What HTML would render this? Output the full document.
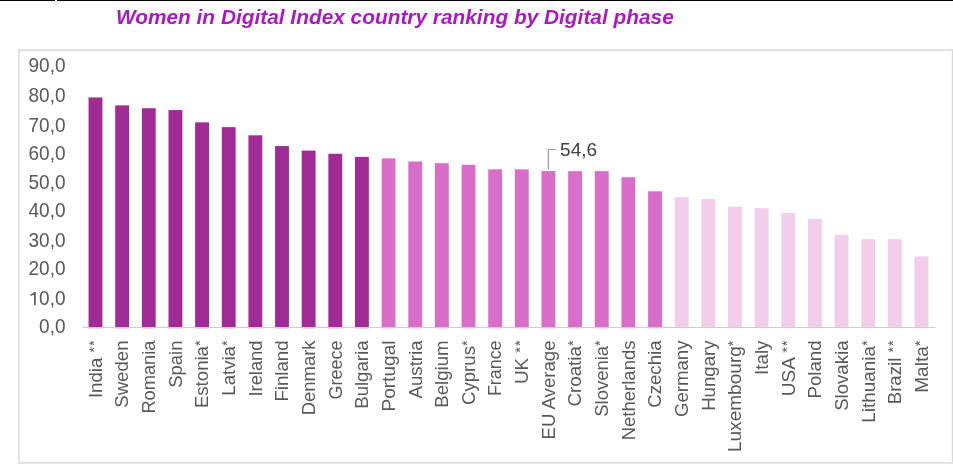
<!DOCTYPE html>
<html><head><meta charset="utf-8"><style>
html,body{margin:0;padding:0;background:#fff;width:953px;height:464px;overflow:hidden}
svg{display:block;will-change:transform}
text{font-family:"Liberation Sans",sans-serif}
</style></head><body>
<svg width="953" height="464" viewBox="0 0 953 464">
<rect x="0" y="0" width="55" height="1" fill="#000"/>
<rect x="57" y="0" width="896" height="1" fill="#000"/>
<text transform="translate(115.9,23.9)" font-size="20.85" font-weight="bold" font-style="italic" fill="#a81bbf">Women in Digital Index country ranking by Digital phase</text>
<g shape-rendering="crispEdges">
<rect x="20" y="51" width="931" height="1" fill="#f7f7f7"/>

<rect x="951" y="51" width="1" height="410" fill="#f8f8f8"/>
<rect x="20" y="461" width="931" height="1" fill="#f9f9f9"/>
<rect x="18" y="49" width="935" height="2" fill="#e3e3e3"/>
<rect x="18" y="49" width="1" height="415" fill="#e0e0e0"/><rect x="19" y="51" width="1" height="411" fill="#ededed"/>
<rect x="952" y="49" width="1" height="415" fill="#d9d9d9"/>
<rect x="18" y="462" width="935" height="2" fill="#e3e3e3"/>
</g>
<rect x="88.55" y="97.45" width="13.85" height="229.55" fill="#a02b94"/><rect x="88.55" y="328" width="13.85" height="1" fill="#a02b94" fill-opacity="0.18"/><rect x="115.20" y="105.35" width="13.85" height="221.65" fill="#a02b94"/><rect x="115.20" y="328" width="13.85" height="1" fill="#a02b94" fill-opacity="0.18"/><rect x="141.84" y="108.25" width="13.85" height="218.75" fill="#a02b94"/><rect x="141.84" y="328" width="13.85" height="1" fill="#a02b94" fill-opacity="0.18"/><rect x="168.49" y="110.05" width="13.85" height="216.95" fill="#a02b94"/><rect x="168.49" y="328" width="13.85" height="1" fill="#a02b94" fill-opacity="0.18"/><rect x="195.13" y="122.35" width="13.85" height="204.65" fill="#a02b94"/><rect x="195.13" y="328" width="13.85" height="1" fill="#a02b94" fill-opacity="0.18"/><rect x="221.78" y="127.15" width="13.85" height="199.85" fill="#a02b94"/><rect x="221.78" y="328" width="13.85" height="1" fill="#a02b94" fill-opacity="0.18"/><rect x="248.42" y="135.32" width="13.85" height="191.68" fill="#a02b94"/><rect x="248.42" y="328" width="13.85" height="1" fill="#a02b94" fill-opacity="0.18"/><rect x="275.07" y="146.05" width="13.85" height="180.95" fill="#a02b94"/><rect x="275.07" y="328" width="13.85" height="1" fill="#a02b94" fill-opacity="0.18"/><rect x="301.71" y="150.60" width="13.85" height="176.40" fill="#a02b94"/><rect x="301.71" y="328" width="13.85" height="1" fill="#a02b94" fill-opacity="0.18"/><rect x="328.36" y="153.75" width="13.85" height="173.25" fill="#a02b94"/><rect x="328.36" y="328" width="13.85" height="1" fill="#a02b94" fill-opacity="0.18"/><rect x="355.00" y="156.85" width="13.85" height="170.15" fill="#a02b94"/><rect x="355.00" y="328" width="13.85" height="1" fill="#a02b94" fill-opacity="0.18"/><rect x="381.65" y="158.35" width="13.85" height="168.65" fill="#d86eca"/><rect x="381.65" y="328" width="13.85" height="1" fill="#d86eca" fill-opacity="0.18"/><rect x="408.30" y="161.50" width="13.85" height="165.50" fill="#d86eca"/><rect x="408.30" y="328" width="13.85" height="1" fill="#d86eca" fill-opacity="0.18"/><rect x="434.94" y="163.15" width="13.85" height="163.85" fill="#d86eca"/><rect x="434.94" y="328" width="13.85" height="1" fill="#d86eca" fill-opacity="0.18"/><rect x="461.59" y="164.85" width="13.85" height="162.15" fill="#d86eca"/><rect x="461.59" y="328" width="13.85" height="1" fill="#d86eca" fill-opacity="0.18"/><rect x="488.23" y="169.35" width="13.85" height="157.65" fill="#d86eca"/><rect x="488.23" y="328" width="13.85" height="1" fill="#d86eca" fill-opacity="0.18"/><rect x="514.88" y="169.35" width="13.85" height="157.65" fill="#d86eca"/><rect x="514.88" y="328" width="13.85" height="1" fill="#d86eca" fill-opacity="0.18"/><rect x="541.52" y="171.05" width="13.85" height="155.95" fill="#d86eca"/><rect x="541.52" y="328" width="13.85" height="1" fill="#d86eca" fill-opacity="0.18"/><rect x="568.17" y="171.15" width="13.85" height="155.85" fill="#d86eca"/><rect x="568.17" y="328" width="13.85" height="1" fill="#d86eca" fill-opacity="0.18"/><rect x="594.81" y="171.15" width="13.85" height="155.85" fill="#d86eca"/><rect x="594.81" y="328" width="13.85" height="1" fill="#d86eca" fill-opacity="0.18"/><rect x="621.46" y="177.21" width="13.85" height="149.79" fill="#d86eca"/><rect x="621.46" y="328" width="13.85" height="1" fill="#d86eca" fill-opacity="0.18"/><rect x="648.11" y="191.31" width="13.85" height="135.69" fill="#d86eca"/><rect x="648.11" y="328" width="13.85" height="1" fill="#d86eca" fill-opacity="0.18"/><rect x="674.75" y="197.15" width="13.85" height="129.85" fill="#f2ceea"/><rect x="674.75" y="328" width="13.85" height="1" fill="#f2ceea" fill-opacity="0.18"/><rect x="701.40" y="199.05" width="13.85" height="127.95" fill="#f2ceea"/><rect x="701.40" y="328" width="13.85" height="1" fill="#f2ceea" fill-opacity="0.18"/><rect x="728.04" y="206.65" width="13.85" height="120.35" fill="#f2ceea"/><rect x="728.04" y="328" width="13.85" height="1" fill="#f2ceea" fill-opacity="0.18"/><rect x="754.69" y="208.15" width="13.85" height="118.85" fill="#f2ceea"/><rect x="754.69" y="328" width="13.85" height="1" fill="#f2ceea" fill-opacity="0.18"/><rect x="781.33" y="213.05" width="13.85" height="113.95" fill="#f2ceea"/><rect x="781.33" y="328" width="13.85" height="1" fill="#f2ceea" fill-opacity="0.18"/><rect x="807.98" y="219.05" width="13.85" height="107.95" fill="#f2ceea"/><rect x="807.98" y="328" width="13.85" height="1" fill="#f2ceea" fill-opacity="0.18"/><rect x="834.62" y="234.85" width="13.85" height="92.15" fill="#f2ceea"/><rect x="834.62" y="328" width="13.85" height="1" fill="#f2ceea" fill-opacity="0.18"/><rect x="861.27" y="239.25" width="13.85" height="87.75" fill="#f2ceea"/><rect x="861.27" y="328" width="13.85" height="1" fill="#f2ceea" fill-opacity="0.18"/><rect x="887.91" y="239.25" width="13.85" height="87.75" fill="#f2ceea"/><rect x="887.91" y="328" width="13.85" height="1" fill="#f2ceea" fill-opacity="0.18"/><rect x="914.56" y="256.45" width="13.85" height="70.55" fill="#f2ceea"/><rect x="914.56" y="328" width="13.85" height="1" fill="#f2ceea" fill-opacity="0.18"/>
<rect x="83" y="327" width="852.5" height="1" fill="#cdcdcd"/>
<g font-size="19" fill="#595959"><text transform="translate(65.5,332.50) scale(1,1.04)" text-anchor="end">0,0</text><text transform="translate(65.5,305.25) scale(1,1.04)" text-anchor="end">0,0</text><path d="M34.05 291.95 H35.75 V305.25 H34.05 V294.65 C33.2 295.05 31.9 295.55 30.4 295.75 V294.35 C32.2 294.05 33.6 293.05 34.05 291.95 Z" fill="#595959"/><text transform="translate(65.5,274.70) scale(1,1.04)" text-anchor="end">20,0</text><text transform="translate(65.5,247.30) scale(1,1.04)" text-anchor="end">30,0</text><text transform="translate(65.5,217.30) scale(1,1.04)" text-anchor="end">40,0</text><text transform="translate(65.5,188.60) scale(1,1.04)" text-anchor="end">50,0</text><text transform="translate(65.5,160.45) scale(1,1.04)" text-anchor="end">60,0</text><text transform="translate(65.5,131.60) scale(1,1.04)" text-anchor="end">70,0</text><text transform="translate(65.5,101.90) scale(1,1.04)" text-anchor="end">80,0</text><text transform="translate(65.5,71.70) scale(1,1.04)" text-anchor="end">90,0</text></g>
<g font-size="19" fill="#595959"><text transform="translate(101.65,340.5) rotate(-90) scale(0.9800,1)" text-anchor="end">India <tspan font-size="14.5" dy="-3.0">*</tspan><tspan font-size="14.5" dx="1">*</tspan></text><text transform="translate(128.31,340.5) rotate(-90) scale(0.9800,1)" text-anchor="end">Sweden</text><text transform="translate(154.96,340.5) rotate(-90) scale(0.9628,1)" text-anchor="end">Romania</text><text transform="translate(181.62,340.5) rotate(-90) scale(0.9736,1)" text-anchor="end">Spain</text><text transform="translate(208.27,340.5) rotate(-90) scale(0.9800,1)" text-anchor="end">Estonia<tspan font-size="14.5" dy="-3.0">*</tspan></text><text transform="translate(234.93,340.5) rotate(-90) scale(0.9800,1)" text-anchor="end">Latvia<tspan font-size="14.5" dy="-3.0">*</tspan></text><text transform="translate(261.59,340.5) rotate(-90) scale(0.9657,1)" text-anchor="end">Ireland</text><text transform="translate(288.24,340.5) rotate(-90) scale(0.9800,1)" text-anchor="end">Finland</text><text transform="translate(314.90,340.5) rotate(-90) scale(0.9694,1)" text-anchor="end">Denmark</text><text transform="translate(341.55,340.5) rotate(-90) scale(0.9473,1)" text-anchor="end">Greece</text><text transform="translate(368.21,340.5) rotate(-90) scale(0.9800,1)" text-anchor="end">Bulgaria</text><text transform="translate(394.87,340.5) rotate(-90) scale(1.0052,1)" text-anchor="end">Portugal</text><text transform="translate(421.52,340.5) rotate(-90) scale(0.9800,1)" text-anchor="end">Austria</text><text transform="translate(448.18,340.5) rotate(-90) scale(0.9800,1)" text-anchor="end">Belgium</text><text transform="translate(474.83,340.5) rotate(-90) scale(0.9800,1)" text-anchor="end">Cyprus<tspan font-size="14.5" dy="-3.0">*</tspan></text><text transform="translate(501.49,340.5) rotate(-90) scale(0.9398,1)" text-anchor="end">France</text><text transform="translate(528.15,340.5) rotate(-90) scale(0.9920,1)" text-anchor="end">UK <tspan font-size="14.5" dy="-3.0">*</tspan><tspan font-size="14.5" dx="1">*</tspan></text><text transform="translate(554.80,340.5) rotate(-90) scale(0.9800,1)" text-anchor="end">EU Average</text><text transform="translate(581.46,340.5) rotate(-90) scale(0.9875,1)" text-anchor="end">Croatia<tspan font-size="14.5" dy="-3.0">*</tspan></text><text transform="translate(608.11,340.5) rotate(-90) scale(0.9710,1)" text-anchor="end">Slovenia<tspan font-size="14.5" dy="-3.0">*</tspan></text><text transform="translate(634.77,340.5) rotate(-90) scale(0.9750,1)" text-anchor="end">Netherlands</text><text transform="translate(661.43,340.5) rotate(-90) scale(0.9800,1)" text-anchor="end">Czechia</text><text transform="translate(688.08,340.5) rotate(-90) scale(0.9800,1)" text-anchor="end">Germany</text><text transform="translate(714.74,340.5) rotate(-90) scale(0.9800,1)" text-anchor="end">Hungary</text><text transform="translate(741.39,340.5) rotate(-90) scale(1.0036,1)" text-anchor="end">Luxembourg<tspan font-size="14.5" dy="-3.0">*</tspan></text><text transform="translate(768.05,340.5) rotate(-90) scale(0.9889,1)" text-anchor="end">Italy</text><text transform="translate(794.71,340.5) rotate(-90) scale(1.0040,1)" text-anchor="end">USA <tspan font-size="14.5" dy="-3.0">*</tspan><tspan font-size="14.5" dx="1">*</tspan></text><text transform="translate(821.36,340.5) rotate(-90) scale(0.9800,1)" text-anchor="end">Poland</text><text transform="translate(848.02,340.5) rotate(-90) scale(0.9800,1)" text-anchor="end">Slovakia</text><text transform="translate(874.67,340.5) rotate(-90) scale(0.9935,1)" text-anchor="end">Lithuania<tspan font-size="14.5" dy="-3.0">*</tspan></text><text transform="translate(901.33,340.5) rotate(-90) scale(0.9800,1)" text-anchor="end">Brazil <tspan font-size="14.5" dy="-3.0">*</tspan><tspan font-size="14.5" dx="1">*</tspan></text><text transform="translate(927.99,340.5) rotate(-90) scale(1.0055,1)" text-anchor="end">Malta<tspan font-size="14.5" dy="-3.0">*</tspan></text></g>
<path d="M548.3 169.8 V149.5 H555.9" fill="none" stroke="#9a9a9a" stroke-width="1.2"/>
<text x="560.1" y="156" font-size="19" fill="#404040">54,6</text>
</svg>
</body></html>
